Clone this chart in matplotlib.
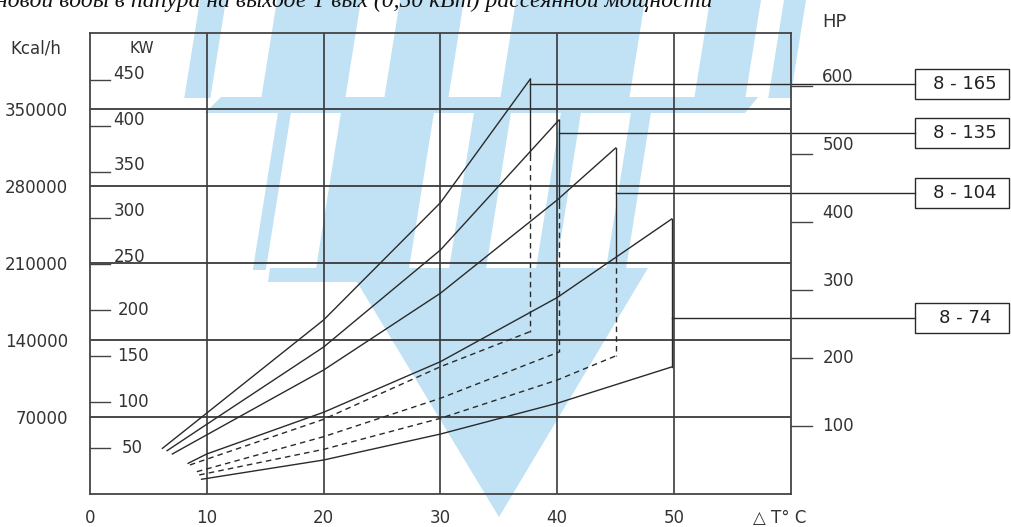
import matplotlib
matplotlib.use("Agg")
import matplotlib.pyplot as plt
from matplotlib.patches import Polygon, Rectangle

# ---------------- data (kcal/h vs delta T) ----------------
models = ['8 - 165', '8 - 135', '8 - 104', '8 - 74']

# upper (solid) curves
up_x = [[6.2, 10, 20, 30, 37.7],
        [6.6, 10, 20, 30, 40.15],
        [7.05, 10, 20, 30, 40, 45.0],
        [8.4, 10, 20, 30, 40, 49.8]]
up_y = [[41500, 73600, 158200, 264800, 377300],
        [39400, 63400, 133600, 221800, 340000],
        [36400, 53800, 112700, 182500, 267300, 314500],
        [27900, 36400, 74300, 120300, 178600, 250000]]

# lower curves (dashed except 8-74)
lo_x = [[8.55, 20, 30, 37.7],
        [9.15, 20, 30, 40.15],
        [9.35, 20, 30, 40, 45.0],
        [9.55, 20, 30, 40, 49.8]]
lo_y = [[26400, 67900, 115700, 147700],
        [20300, 52100, 87000, 129100],
        [17300, 40600, 68800, 103600, 125500],
        [13400, 30900, 54500, 82500, 115500]]
lo_dashed = [True, True, True, False]

# vertical closing line: solid down to this value, dashed below
split_y = [308000, 265000, 215000, 115500]

# label boxes / connector levels
label_y = [372700, 328200, 273600, 160000]

x_ticks = [0, 10, 20, 30, 40, 50]
kcal_ticks = [70000, 140000, 210000, 280000, 350000]
kw_ticks = [50, 100, 150, 200, 250, 300, 350, 400, 450]
hp_ticks = [100, 200, 300, 400, 500, 600]
KCAL_PER_KW = 836
KCAL_PER_HP = 618

caption = "новой воды в папура на выходе Т вых (0,50 кВт) рассеянной мощности"

# ---------------- figure ----------------
W, H = 1011, 527
fig = plt.figure(figsize=(W / 100, H / 100), dpi=100)
fig.patch.set_facecolor('white')

# watermark (light blue logo behind the chart)
bg = fig.add_axes([0, 0, 1, 1], zorder=0)
bg.set_xlim(0, W)
bg.set_ylim(H, 0)
bg.axis('off')
wm = '#c0e2f4'
s = 0.16


def bar(xa, xb, ya, yb):
    return [(xa - s * ya, ya), (xb - s * ya, ya), (xb - s * yb, yb), (xa - s * yb, yb)]


for xa, xb in [(200, 226), (277, 361), (400, 464), (516, 645), (710, 761), (784, 806)]:
    bg.add_patch(Polygon(bar(xa, xb, 0, 98), color=wm, lw=0))
bg.add_patch(Polygon([(221, 97), (758, 97), (745, 113), (205, 113)], color=wm, lw=0))
for xa, xb in [(296, 309), (359, 452), (492, 529), (579, 599), (649, 669)]:
    bg.add_patch(Polygon(bar(xa, xb, 113, 270), color=wm, lw=0))
bg.add_patch(Polygon([(270, 268), (648, 268), (499, 517), (357, 282), (268, 282)], color=wm, lw=0))

# main chart
ax = fig.add_axes([90 / W, 33 / H, 700.8 / W, 461 / H], zorder=1)
ax.set_facecolor('none')
ax.set_xlim(0, 60)
ax.set_ylim(0, 419100)

ink = '#2a2a2a'
for sp in ax.spines.values():
    sp.set_color('#444444')
    sp.set_linewidth(1.3)

ax.vlines(x_ticks[1:], 0, 419100, color=ink, lw=1.1)
ax.hlines(kcal_ticks, 0, 60, color='#3a3a3a', lw=1.3)

ax.set_xticks(x_ticks)
ax.set_xticklabels([str(v) for v in x_ticks], fontsize=12, color='#333333')
ax.set_yticks(kcal_ticks)
ax.set_yticklabels([str(v) for v in kcal_ticks], fontsize=12, color='#333333')
ax.tick_params(axis='x', length=0, pad=11)
ax.tick_params(axis='y', length=0, pad=16)

ax.text(59.07, -21800, '△ T° C', fontsize=12, color='#333333', ha='center', va='center', clip_on=False)
ax.text(-4.62, 405400, 'Kcal/h', fontsize=12, color='#333333', ha='center', va='center', clip_on=False)
ax.text(4.45, 405400, 'KW', fontsize=11, color='#333333', ha='center', va='center')

# kW scale on the left
for kw in kw_ticks:
    yk = kw * KCAL_PER_KW
    ax.plot([0, 1.75], [yk, yk], color='#444444', lw=1.0)
    if kw >= 250:
        ax.text(2.0, yk + 1500, str(kw), fontsize=12, color='#333333', ha='left', va='baseline')
    else:
        ax.text(2.35 if kw >= 100 else 2.75, yk, str(kw), fontsize=12, color='#333333', ha='left', va='center')

# HP scale on the right
ax.text(62.7, 429000, 'HP', fontsize=13, color='#333333', ha='left', va='center', clip_on=False)
for hp in hp_ticks:
    yh = hp * KCAL_PER_HP
    ax.plot([60, 61.8], [yh, yh], color='#444444', lw=1.0, clip_on=False)
    if hp >= 300:
        ax.text(62.7, yh + 3500, str(hp), fontsize=12, color='#333333', ha='left', va='baseline', clip_on=False)
    else:
        ax.text(62.7, yh, str(hp), fontsize=12, color='#333333', ha='left', va='center', clip_on=False)

# curves
for i, name in enumerate(models):
    ax.plot(up_x[i], up_y[i], color=ink, lw=1.0)
    ax.plot(lo_x[i], lo_y[i], color=ink, lw=1.0,
            linestyle=(0, (4, 3)) if lo_dashed[i] else '-')
    xv = up_x[i][-1]
    ax.plot([xv, xv], [up_y[i][-1], split_y[i]], color=ink, lw=1.0)
    if split_y[i] > lo_y[i][-1]:
        ax.plot([xv, xv], [split_y[i], lo_y[i][-1]], color=ink, lw=1.0, linestyle=(0, (4, 3)))
    # connector and label box
    ax.plot([xv, 70.6], [label_y[i], label_y[i]], color=ink, lw=1.0, clip_on=False)
    ax.add_patch(Rectangle((70.6, label_y[i] - 13600), 8.1, 27200, fill=False,
                           edgecolor=ink, lw=1.0, clip_on=False))
    ax.text(74.9, label_y[i], name, fontsize=13, color='#222222', ha='center', va='center', clip_on=False)

# caption, cut off at the top edge as in the source scan
fig.text(-0.004, 1 - 7 / H, caption, fontsize=17, style='italic', family='Liberation Serif',
         color='#111111', ha='left', va='baseline')

fig.savefig('out.png', dpi=100, facecolor='white')
